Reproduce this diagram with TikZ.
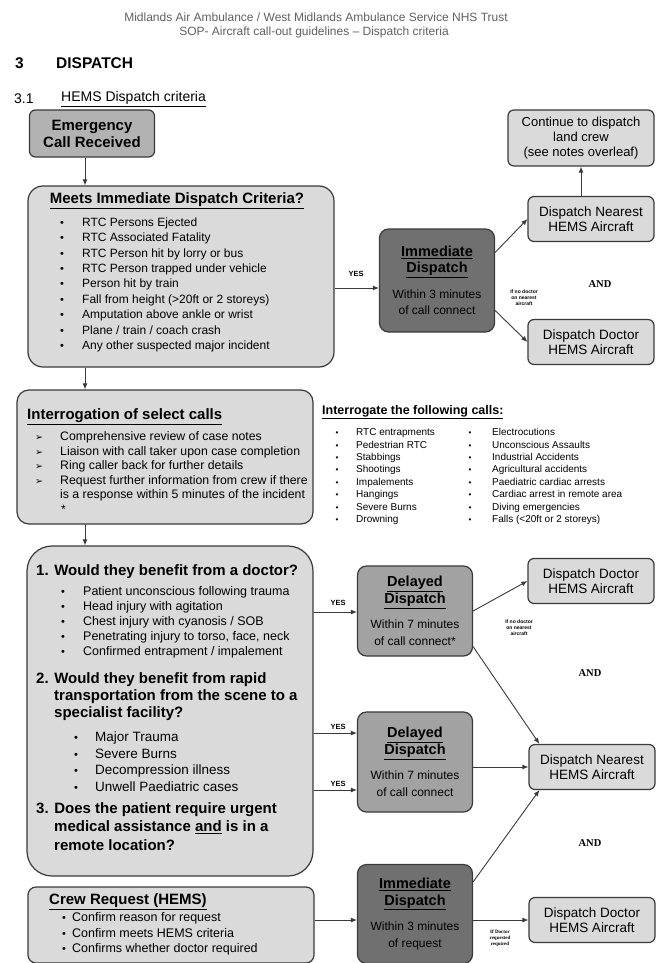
\documentclass[tikz,border=0pt]{standalone}
\usepackage{fontspec}
\setmainfont{Liberation Sans}
\newfontfamily\andfont{Liberation Serif}
\newfontfamily\arrowfont{DejaVu Sans}
\usetikzlibrary{arrows.meta}

\definecolor{boxline}{HTML}{3A3A3A}
\definecolor{paleg}{HTML}{DADADA}
\definecolor{callgrey}{HTML}{B2B2B2}
\definecolor{nowgrey}{HTML}{707070}
\definecolor{latergrey}{HTML}{A2A2A2}

% headings inside the dispatch boxes
\newcommand{\dishead}[1]{{\fontsize{14.5}{17}\selectfont\bfseries\underline{#1}}}
\newcommand{\dissub}[1]{{\fontsize{12}{15}\selectfont #1}}

\begin{document}
\begin{tikzpicture}[x=1pt, y=-1pt,
        lightbox/.style={
            draw=boxline, line width=1.2pt, fill=paleg, inner sep=0pt
        },
        callbox/.style={
            lightbox, fill=callgrey, rounded corners=6pt, align=center,
            font=\fontsize{15}{17}\selectfont\bfseries
        },
        nowbox/.style={
            lightbox, fill=nowgrey, rounded corners=9pt, align=center,
            minimum width=115pt, font=\fontsize{12}{16.5}\selectfont
        },
        laterbox/.style={nowbox, fill=latergrey},
        heliobox/.style={
            lightbox, rounded corners=6pt, align=center,
            minimum width=126pt, minimum height=45pt,
            font=\fontsize{13.5}{15.5}\selectfont
        },
        hdr/.style={font=\fontsize{12}{14}\selectfont, text=black!62, inner sep=0pt},
        sect/.style={font=\fontsize{15.5}{17}\selectfont\bfseries, inner sep=0pt, anchor=west},
        boxtitle/.style={font=\fontsize{15}{17}\selectfont\bfseries, inner sep=0pt},
        txt/.style={font=\fontsize{12}{14}\selectfont, inner sep=0pt, anchor=base west},
        smalltxt/.style={font=\fontsize{10}{12}\selectfont, inner sep=0pt, anchor=base west},
        dotmark/.style={font=\fontsize{11}{12}\selectfont, inner sep=0pt, anchor=base},
        yeslbl/.style={font=\fontsize{7.5}{9}\selectfont\bfseries, inner sep=0pt},
        note/.style={font=\fontsize{5}{6}\selectfont\bfseries, align=center, inner sep=0pt},
        andlbl/.style={font=\andfont\fontsize{10.5}{12}\selectfont\bfseries, inner sep=0pt},
        arr/.style={-{Latex[length=6pt,width=5pt]}, line width=0.9pt, draw=boxline}
    ]

\useasboundingbox[fill=white] (0,0) rectangle (657,963);

% page header
\node[hdr] (hdrone) at (316,17) {Midlands Air Ambulance / West Midlands Ambulance Service NHS Trust};
\node[hdr] (hdrtwo) at (314,32) {SOP- Aircraft call-out guidelines -- Dispatch criteria};
\node[sect] (secnum) at (15,63) {3};
\node[sect] (sectitle) at (56,63) {DISPATCH};
\node[sect, font=\fontsize{14}{16}\selectfont] (subnum) at (14,99) {3.1};
\node[sect, font=\fontsize{14}{16}\selectfont] (subtitle) at (61,99) {\underline{HEMS Dispatch criteria}};

% call received and immediate criteria
\node[callbox, minimum width=125pt, minimum height=47pt] (call) at (92,133.5) {Emergency\\Call Received};

\node[lightbox, rounded corners=15pt, minimum width=306pt, minimum height=181pt] (meets) at (181,276.5) {};
\node[boxtitle] (meetstitle) at (177,201) {\underline{Meets Immediate Dispatch Criteria?}};
\foreach \crit [count=\k] in {RTC Persons Ejected, RTC Associated Fatality,
    RTC Person hit by lorry or bus, RTC Person trapped under vehicle,
    Person hit by train, Fall from height (>20ft or 2 storeys),
    Amputation above ankle or wrist, Plane / train / coach crash,
    Any other suspected major incident}{
    \node[dotmark] (mdot\k) at (62,210.8+15.4*\k) {•};
    \node[txt] (mtxt\k) at (82,210.8+15.4*\k) {\crit};
}

\node[nowbox, minimum height=103pt] (immone) at (437,280.5)
    {\dishead{Immediate}\\\dishead{Dispatch}\\[9pt]\dissub{Within 3 minutes}\\\dissub{of call connect}};
\node[lightbox, rounded corners=6pt, align=center, minimum width=146pt, minimum height=56pt,
    font=\fontsize{13}{15}\selectfont] (land) at (581,138) {Continue to dispatch\\land crew\\(see notes overleaf)};
\node[heliobox] (nearone) at (591,219) {Dispatch Nearest\\HEMS Aircraft};
\node[heliobox] (docone) at (591,342) {Dispatch Doctor\\HEMS Aircraft};
\node[andlbl] (andone) at (600,284) {AND};
\node[note] (noteone) at (524,298) {If no doctor\\on nearest\\aircraft};
\node[yeslbl] (yesone) at (356,274) {YES};

% interrogation
\node[lightbox, rounded corners=12pt, minimum width=296pt, minimum height=134pt] (interr) at (165,457) {};
\node[boxtitle, anchor=west] (interrtitle) at (27,417) {\underline{Interrogation of select calls}};
\foreach \act [count=\k] in {Comprehensive review of case notes,
    Liaison with call taker upon case completion,
    Ring caller back for further details,
    Request further information from crew if there}{
    \node[dotmark, font=\arrowfont\fontsize{9.5}{10}\selectfont] (iarr\k) at (39,426+14.5*\k) {➢};
    \node[txt, font=\fontsize{12.3}{14}\selectfont] (itxt\k) at (60,426+14.5*\k) {\act};
}
\node[txt, font=\fontsize{12.3}{14}\selectfont] (itxtmore) at (60,498.5) {is a response within 5 minutes of the incident};
\node[txt] (istar) at (61,513) {*};

\node[boxtitle, anchor=west, font=\fontsize{12.5}{15}\selectfont\bfseries] (calltitle) at (322,412) {\underline{Interrogate the following calls:}};
\foreach \ca/\cb [count=\k] in {RTC entrapments/Electrocutions,
    Pedestrian RTC/Unconscious Assaults, Stabbings/Industrial Accidents,
    Shootings/Agricultural accidents, Impalements/Paediatric cardiac arrests,
    Hangings/Cardiac arrest in remote area, Severe Burns/Diving emergencies,
    Drowning/Falls (<20ft or 2 storeys)}{
    \node[dotmark, font=\fontsize{8}{9}\selectfont] (cdota\k) at (337,423.2+12.4*\k) {•};
    \node[smalltxt] (ctxta\k) at (356,423.2+12.4*\k) {\ca};
    \node[dotmark, font=\fontsize{8}{9}\selectfont] (cdotb\k) at (470,423.2+12.4*\k) {•};
    \node[smalltxt] (ctxtb\k) at (492,423.2+12.4*\k) {\cb};
}

% questions
\node[lightbox, rounded corners=25pt, minimum width=286pt, minimum height=330pt] (quest) at (170,711) {};
\node[boxtitle, anchor=west] (qone) at (36,572) {1. Would they benefit from a doctor?};
\foreach \sign [count=\k] in {Patient unconscious following trauma,
    Head injury with agitation, Chest injury with cyanosis / SOB,
    {Penetrating injury to torso, face, neck},
    Confirmed entrapment / impalement}{
    \node[dotmark] (qdot\k) at (63,580+15.1*\k) {•};
    \node[txt, font=\fontsize{12.5}{14}\selectfont] (qtxt\k) at (83,580+15.1*\k) {\sign};
}
\node[boxtitle, anchor=west] (qtwoa) at (36,680) {2. Would they benefit from rapid};
\node[boxtitle, anchor=west] (qtwob) at (54,697) {transportation from the scene to a};
\node[boxtitle, anchor=west] (qtwoc) at (54,714) {specialist facility?};
\foreach \cas [count=\k] in {Major Trauma, Severe Burns, Decompression illness, Unwell Paediatric cases}{
    \node[dotmark] (rdot\k) at (76,725.5+16.4*\k) {•};
    \node[txt, font=\fontsize{13.5}{15}\selectfont] (rtxt\k) at (95,725.5+16.4*\k) {\cas};
}
\node[boxtitle, anchor=west] (qthra) at (36,810) {3. Does the patient require urgent};
\node[boxtitle, anchor=west] (qthrb) at (54,827) {medical assistance \underline{and} is in a};
\node[boxtitle, anchor=west] (qthrc) at (54,845) {remote location?};

\node[laterbox, minimum height=90pt] (delone) at (415,611)
    {\dishead{Delayed}\\\dishead{Dispatch}\\[9pt]\dissub{Within 7 minutes}\\\dissub{of call connect*}};
\node[laterbox, minimum height=100pt] (deltwo) at (415,762)
    {\dishead{Delayed}\\\dishead{Dispatch}\\[9pt]\dissub{Within 7 minutes}\\\dissub{of call connect}};
\node[heliobox] (doctwo) at (591,581) {Dispatch Doctor\\HEMS Aircraft};
\node[heliobox] (neartwo) at (592,767) {Dispatch Nearest\\HEMS Aircraft};
\node[note] (notetwo) at (519,628) {If no doctor\\on nearest\\aircraft};
\node[andlbl] (andtwo) at (590,673) {AND};
\node[andlbl] (andthree) at (590,843) {AND};
\node[yeslbl] (yestwo) at (338,603) {YES};
\node[yeslbl] (yesthree) at (338,727) {YES};
\node[yeslbl] (yesfour) at (338,784) {YES};

% crew request
\node[lightbox, rounded corners=8pt, minimum width=286pt, minimum height=76pt] (crew) at (171,925) {};
\node[boxtitle, anchor=west] (crewtitle) at (49,902) {\underline{Crew Request (HEMS)}};
\foreach \chk [count=\k] in {Confirm reason for request, Confirm meets HEMS criteria,
    Confirms whether doctor required}{
    \node[dotmark] (cwdot\k) at (64,906+15.5*\k) {•};
    \node[txt, font=\fontsize{12.5}{14}\selectfont] (cwtxt\k) at (72,906+15.5*\k) {\chk};
}
\node[nowbox, minimum height=99pt] (immtwo) at (415,914)
    {\dishead{Immediate}\\\dishead{Dispatch}\\[9pt]\dissub{Within 3 minutes}\\\dissub{of request}};
\node[heliobox] (docthree) at (592,920) {Dispatch Doctor\\HEMS Aircraft};
\node[note, font=\andfont\fontsize{5}{6}\selectfont\bfseries] (notethree) at (500,938) {If Doctor\\requested\\required};

% connectors
\coordinate (yone) at ([yshift=-7.5pt]immone.west);
\coordinate (ytwo) at ([yshift=-1pt]delone.west);
\coordinate (ythree) at ([yshift=29pt]deltwo.west);
\coordinate (yfour) at ([yshift=-28pt]deltwo.west);
\draw[arr] (call.south -| 85,0) -- (85,0 |- meets.north);
\draw[arr] (meets.south -| 85,0) -- (85,0 |- interr.north);
\draw[arr] (interr.south -| 85,0) -- (85,0 |- quest.north);
\draw[arr] (yone -| meets.east) -- (yone);
\draw[arr] ([yshift=28pt]immone.east) -- (nearone.west);
\draw[arr] ([yshift=-30pt]immone.east) -- (docone.west);
\draw[arr] (nearone.north -| land.south) -- (land.south);
\draw[arr] (ytwo -| quest.east) -- (ytwo);
\draw[arr] (ythree -| quest.east) -- (ythree);
\draw[arr] (yfour -| quest.east) -- (yfour);
\draw[arr] (delone.east) -- (doctwo.west);
\draw[arr] ([yshift=10pt]delone.south east) -- ([xshift=11pt]neartwo.north west);
\draw[arr] (neartwo.west -| deltwo.east) -- (neartwo.west);
\draw[arr] ([yshift=-18pt]immtwo.north east) -- ([xshift=11pt]neartwo.south west);
\draw[arr] (docthree.west -| crew.east) -- (docthree.west -| immtwo.west);
\draw[arr] (docthree.west -| immtwo.east) -- (docthree.west);

\end{tikzpicture}
\end{document}
